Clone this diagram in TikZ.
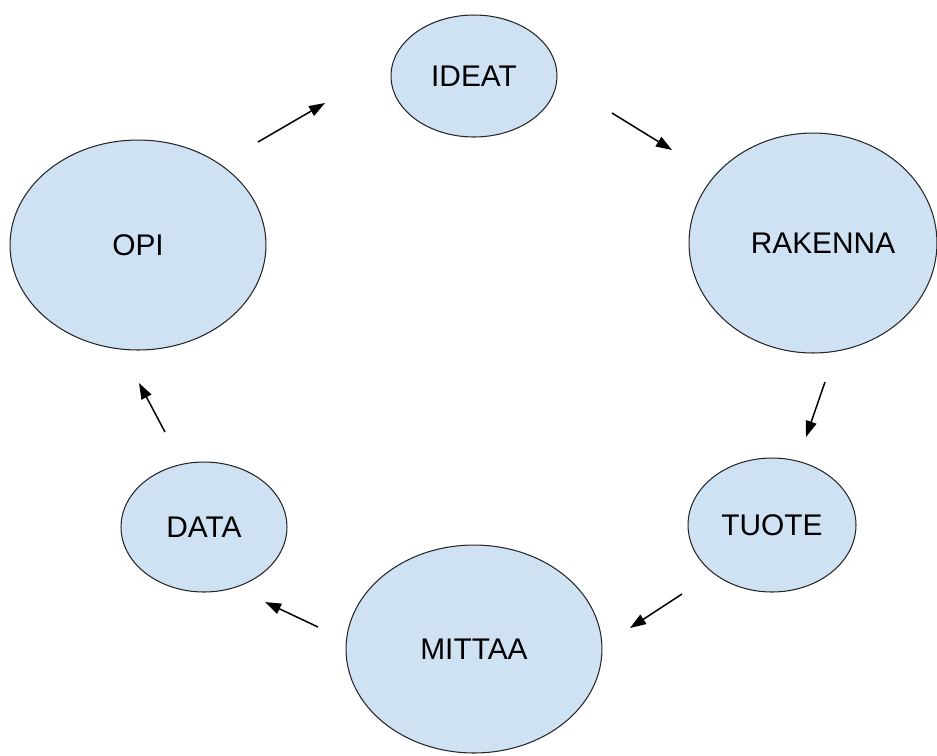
\documentclass[tikz,border=0pt]{standalone}
\usepackage{fontspec}
\setmainfont{Liberation Sans}
\usepackage{xcolor}
\usetikzlibrary{arrows.meta,shapes.geometric}
\definecolor{stagefill}{HTML}{CFE2F3}

\begin{document}
\begin{tikzpicture}[x=0.02cm,y=-0.02cm,
  stage/.style={ellipse,draw=black!85,fill=stagefill,line width=0.6pt,inner sep=0pt,
    font=\fontsize{17}{20}\selectfont},
  flow/.style={-{Triangle[length=0.32cm,width=0.22cm]},line width=0.85pt}]
\useasboundingbox (0,0) rectangle (937,755);

% the six stages of the loop
\node[stage,minimum width=3.32cm,minimum height=2.44cm] (ideat) at (474,76) {IDEAT};
\node[stage,minimum width=4.96cm,minimum height=4.4cm] (rakenna) at (813,243) {\hspace{0.4cm}RAKENNA};
\node[stage,minimum width=3.36cm,minimum height=2.68cm] (tuote) at (772,525) {TUOTE};
\node[stage,minimum width=5.12cm,minimum height=4.16cm] (mittaa) at (474,649) {MITTAA};
\node[stage,minimum width=3.32cm,minimum height=2.6cm] (data) at (204,527) {DATA};
\node[stage,minimum width=5.12cm,minimum height=4.2cm] (opi) at (138,245) {OPI};

% arrow ends, kept clear of the ellipses
\coordinate (opi-out) at (258,142);     \coordinate (ideat-in) at (325,103);
\coordinate (ideat-out) at (612,113);   \coordinate (rakenna-in) at (672,150);
\coordinate (rakenna-out) at (825,382); \coordinate (tuote-in) at (806,437);
\coordinate (tuote-out) at (682,594);   \coordinate (mittaa-in) at (630,628);
\coordinate (mittaa-out) at (318,627);  \coordinate (data-in) at (265,602);
\coordinate (data-out) at (165,432);    \coordinate (opi-in) at (139,383);

\foreach \a/\b in {opi/ideat,ideat/rakenna,rakenna/tuote,tuote/mittaa,mittaa/data,data/opi}{
  \draw[flow] (\a-out) -- (\b-in);
}
\end{tikzpicture}
\end{document}
